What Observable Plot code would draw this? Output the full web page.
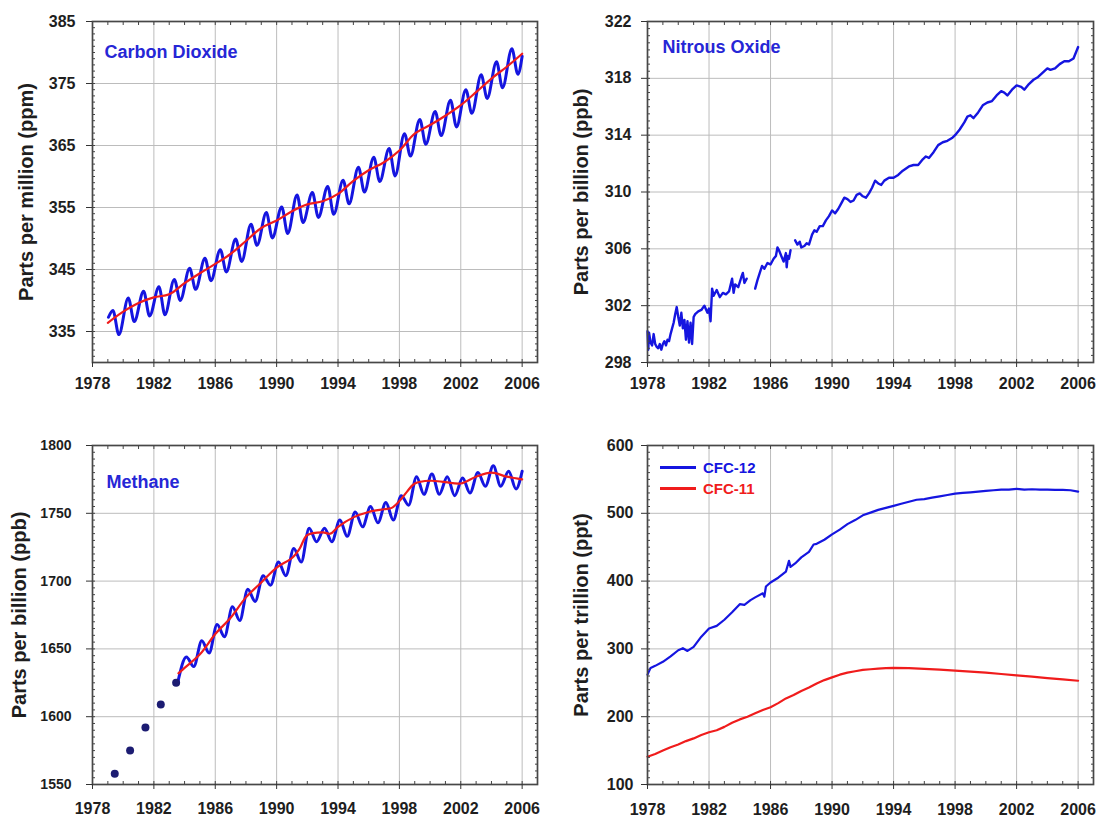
<!DOCTYPE html>
<html><head><meta charset="utf-8">
<script src="https://cdn.jsdelivr.net/npm/d3@7"></script>
<script src="https://cdn.jsdelivr.net/npm/@observablehq/plot@0.6"></script>
<style>
html,body{margin:0;padding:0;background:#fff}
body{width:1099px;height:818px;position:relative;overflow:hidden;font-family:"Liberation Sans",Arial,sans-serif}
.panel{position:absolute}
#legend{position:absolute;left:660px;top:457px;font:bold 15px "Liberation Sans",Arial,sans-serif;line-height:21px}
#legend .row{display:flex;align-items:center;height:21px}
#legend .sw{display:inline-block;width:36px;height:2.5px;margin-right:7px}
</style></head><body>
<div id="p1" class="panel" style="left:0;top:0"></div>
<div id="p2" class="panel" style="left:549px;top:0"></div>
<div id="p3" class="panel" style="left:0;top:400px"></div>
<div id="p4" class="panel" style="left:549px;top:400px"></div>
<div id="legend"></div>
<script>
// ---------- tick labels ----------
const xTickYears = [1978, 1982, 1986, 1990, 1994, 1998, 2002, 2006];
const co2Ticks = [335, 345, 355, 365, 375, 385];
const n2oTicks = [298, 302, 306, 310, 314, 318, 322];
const ch4Ticks = [1550, 1600, 1650, 1700, 1750, 1800];
const cfcTicks = [100, 200, 300, 400, 500, 600];

// ---------- Carbon dioxide (ppm) ----------
const co2Years = [1979,1980,1981,1982,1983,1984,1985,1986,1987,1988,1989,1990,1991,1992,1993,1994,1995,1996,1997,1998,1999,2000,2001,2002,2003,2004,2005];
const co2Peak = [338.4,340.4,341.5,342.2,343.4,345.2,346.8,348.2,349.9,352.3,354.2,355.1,357.0,357.4,358.4,359.4,361.5,363.1,364.5,366.9,369.2,370.5,372.3,374.0,376.4,378.5,380.6];
const co2Trough = [334.5,336.6,337.5,337.7,340.0,341.8,343.2,344.6,346.3,348.9,350.1,350.8,352.6,353.4,353.9,355.6,357.5,359.2,360.1,363.3,365.2,366.6,368.0,370.2,372.6,374.3,376.5];
const co2Start = 337.3, co2End = 379.4;
const co2TrendYears = [1979,1980,1981,1982,1983,1984,1985,1986,1987,1988,1989,1990,1991,1992,1993,1994,1995,1996,1997,1998,1999,2000,2001,2002,2003,2004,2005,2006];
const co2Trend = [336.4,338.2,339.6,340.5,341.0,342.8,344.4,345.9,347.5,349.6,351.7,352.9,354.4,355.5,356.0,357.2,359.3,361.0,362.3,364.2,366.9,368.3,369.8,371.5,373.6,375.8,377.7,379.8];

// ---------- Nitrous oxide (ppb) ----------
const n2oYearsA = [1978.0,1978.05,1978.1,1978.2,1978.3,1978.4,1978.5,1978.6,1978.7,1978.8,1978.9,1979.0,1979.1,1979.2,1979.3,1979.4,1979.5,1979.6,1979.7,1979.8,1979.9,1980.0,1980.1,1980.2,1980.3,1980.4,1980.5,1980.6,1980.7,1980.8,1980.9,1981.0,1981.1,1981.3,1981.5,1981.7,1981.9,1982.0,1982.1,1982.2,1982.3,1982.5,1982.7,1982.9,1983.1,1983.3,1983.5,1983.6,1983.7,1983.9,1984.1,1984.2,1984.3,1984.45];
const n2oValuesA = [300.2,298.9,300.1,299.4,299.2,300.0,299.3,299.1,299.0,299.3,298.9,299.3,299.5,299.2,299.6,299.5,300.0,300.4,300.8,301.4,301.9,301.2,300.6,301.5,300.4,301.0,299.6,300.9,299.4,300.8,299.3,301.2,301.4,301.6,301.7,302.0,301.5,301.8,300.9,303.2,302.7,303.1,302.6,302.9,302.8,303.0,303.9,302.9,303.5,303.3,304.0,304.3,303.6,303.9];
const n2oYearsB = [1985.0,1985.15,1985.3,1985.45,1985.6,1985.8,1986.0,1986.2,1986.35,1986.45,1986.55,1986.7,1986.85,1987.0,1987.05,1987.12,1987.2,1987.3];
const n2oValuesB = [303.2,303.8,304.3,304.8,304.6,305.0,304.9,305.3,305.5,306.1,305.9,305.5,305.1,305.7,304.7,305.5,305.3,305.9];
const n2oYearsC = [1987.6,1987.75,1987.9,1988.0,1988.2,1988.35,1988.5,1988.7,1988.85,1989.0,1989.2,1989.4,1989.6,1989.8,1990.0,1990.2,1990.4,1990.6,1990.8,1991.0,1991.2,1991.4,1991.6,1991.8,1992.0,1992.2,1992.4,1992.6,1992.8,1993.0,1993.2,1993.4,1993.7,1994.0,1994.3,1994.6,1995.0,1995.3,1995.6,1995.9,1996.1,1996.3,1996.6,1996.9,1997.2,1997.5,1997.8,1998.0,1998.3,1998.6,1998.8,1999.0,1999.2,1999.5,1999.8,2000.1,2000.4,2000.7,2001.0,2001.2,2001.4,2001.7,2002.0,2002.3,2002.5,2002.8,2003.1,2003.4,2003.7,2004.0,2004.2,2004.5,2004.8,2005.1,2005.4,2005.7,2006.0];
const n2oValuesC = [306.6,306.3,306.5,306.1,306.2,306.4,306.3,307.0,307.3,307.2,307.6,307.6,308.0,308.3,308.7,308.5,308.8,309.2,309.6,309.5,309.3,309.4,309.8,309.9,309.7,309.6,309.9,310.3,310.8,310.6,310.5,310.8,311.0,311.0,311.2,311.5,311.8,311.9,311.9,312.3,312.5,312.4,312.8,313.3,313.5,313.6,313.8,314.0,314.4,314.9,315.3,315.4,315.2,315.6,316.1,316.3,316.4,316.8,317.1,317.0,316.8,317.2,317.5,317.4,317.2,317.6,317.9,318.1,318.4,318.7,318.6,318.7,319.0,319.2,319.2,319.4,320.2];

// ---------- Methane (ppb) ----------
const ch4FlaskYears = [1979.45,1980.45,1981.45,1982.45,1983.45];
const ch4FlaskValues = [1558,1575,1592,1609,1625];
const ch4Years = [1984,1985,1986,1987,1988,1989,1990,1991,1992,1993,1994,1995,1996,1997,1998,1999,2000,2001,2002,2003,2004,2005];
const ch4Peak = [1644,1656,1668,1681,1694,1704,1714,1724,1739,1739,1745,1751,1755,1758,1763,1777,1779,1777,1776,1780,1785,1781];
const ch4Trough = [1637,1647,1659,1671,1685,1697,1704,1714,1729,1729,1733,1740,1743,1745,1756,1764,1764,1763,1765,1770,1770,1768];
const ch4Start = 1625, ch4End = 1781;
const ch4TrendYears = [1983.6,1984,1985,1986,1987,1988,1989,1990,1991,1991.5,1992,1993,1993.5,1994,1995,1996,1997,1997.5,1998,1998.5,1999,2000,2001,2002,2003,2004,2005,2006];
const ch4Trend = [1632,1636,1646,1661,1673,1688,1699,1710,1717,1724,1734,1736,1735,1740,1747,1751,1753,1754,1759,1766,1772,1774,1773,1772,1777,1780,1777,1775];

// ---------- CFCs (ppt) ----------
const cfcNames = ["CFC-12", "CFC-11"];
const cfcColors = ["#1515e0", "#f01c1c"];
const cfc12Years = [1978.0,1978.2,1978.5,1979.0,1979.5,1980.0,1980.3,1980.6,1981.0,1981.5,1982.0,1982.5,1983.0,1983.5,1984.0,1984.3,1984.7,1985.0,1985.5,1985.6,1985.7,1986.0,1986.5,1987.0,1987.2,1987.3,1987.6,1988.0,1988.5,1988.8,1989.0,1989.5,1990.0,1990.5,1991.0,1991.5,1992.0,1992.5,1993.0,1993.5,1994.0,1994.5,1995.0,1995.5,1996.0,1996.5,1997.0,1997.5,1998.0,1998.5,1999.0,1999.5,2000.0,2000.5,2001.0,2001.5,2002.0,2002.5,2003.0,2003.5,2004.0,2004.5,2005.0,2005.5,2006.0];
const cfc12Values = [262,272,275,281,289,298,301,297,303,318,330,334,343,354,366,365,372,376,382,377,392,398,405,414,430,421,426,435,443,454,455,461,469,476,484,490,497,501,505,508,511,514,517,520,521,523,525,527,529,530,531,532,533,534,535,535,536,535,535.5,535,535,534.5,534.5,534,532];
const cfc11Years = [1978.0,1978.5,1979.0,1979.5,1980.0,1980.5,1981.0,1981.5,1982.0,1982.5,1983.0,1983.5,1984.0,1984.5,1985.0,1985.5,1986.0,1986.5,1987.0,1987.5,1988.0,1988.5,1989.0,1989.5,1990.0,1990.5,1991.0,1991.5,1992.0,1992.5,1993.0,1993.5,1994.0,1995.0,1996.0,1997.0,1998.0,1999.0,2000.0,2001.0,2002.0,2003.0,2004.0,2005.0,2006.0];
const cfc11Values = [141,145,150,155,159,164,168,173,177,180,185,191,196,200,205,210,214,220,227,232,238,243,249,254,258,262,265,267,269,270,271,271.5,272,271.5,270.5,269.5,268,266.5,265,263,261,259,257,255,253];

// ---------- colours ----------
const BLUE = "#1515e0", RED = "#f01c1c", LABEL_BLUE = "#2626d6", DOT = "#1c1c72";

// ---------- tables ----------
function seasonal(years, peak, trough, start, end, tStart, tEnd, peakOff, troughOff) {
  const rows = [{t: tStart, v: start}];
  years.forEach((y, i) => {
    rows.push({t: y + peakOff, v: peak[i]});
    rows.push({t: y + troughOff, v: trough[i]});
  });
  rows.push({t: tEnd, v: end});
  return rows.sort((a, b) => a.t - b.t);
}
const zip = (ts, vs, extra = {}) => ts.map((t, i) => ({t, v: vs[i], ...extra}));

const co2Blue = seasonal(co2Years, co2Peak, co2Trough, co2Start, co2End, 1979.04, 2006.0, 0.33, 0.72);
const co2Red = zip(co2TrendYears, co2Trend);
const n2o = [...zip(n2oYearsA, n2oValuesA, {s: "a"}), ...zip(n2oYearsB, n2oValuesB, {s: "b"}), ...zip(n2oYearsC, n2oValuesC, {s: "c"})];
const ch4Blue = seasonal(ch4Years, ch4Peak, ch4Trough, ch4Start, ch4End, 1983.55, 2006.0, 0.12, 0.6);
const ch4Red = zip(ch4TrendYears, ch4Trend);
const ch4Dots = zip(ch4FlaskYears, ch4FlaskValues);
const cfc12 = zip(cfc12Years, cfc12Values);
const cfc11 = zip(cfc11Years, cfc11Values);

const xMinorYears = d3.range(1978, 2007);
const FONT = "'Liberation Sans', Arial, Helvetica, sans-serif";

function panel(o) {
  const yMinor = d3.range(o.yDomain[0], o.yDomain[1] + 1e-9, o.yMinorStep);
  const minorStyle = {tickFormat: () => "", stroke: "#444", strokeWidth: 1};
  const yGrid = o.yTicks.filter(d => d > o.yDomain[0] && d < o.yDomain[1]);
  return Plot.plot({
    width: o.width, height: o.height,
    marginLeft: o.ml, marginRight: o.mr, marginTop: o.mt, marginBottom: o.mb,
    x: {domain: [1978, 2007], label: null},
    y: {domain: o.yDomain, label: null},
    style: {fontFamily: FONT, fontSize: "16px", fontWeight: "bold", color: "#1e1e1e", background: "transparent", overflow: "visible"},
    marks: [
      Plot.gridX(xTickYears.slice(1), {stroke: "#bcbcbc", strokeOpacity: 1, strokeWidth: 1}),
      Plot.gridY(yGrid, {stroke: "#bcbcbc", strokeOpacity: 1, strokeWidth: 1}),
      ...o.marks,
      Plot.axisX(xMinorYears, {anchor: "bottom", tickSize: 3, dy: -3, ...minorStyle}),
      Plot.axisX(xMinorYears, {anchor: "top", tickSize: 3, dy: 3, ...minorStyle}),
      Plot.axisY(yMinor, {anchor: "left", tickSize: 3, dx: 3, ...minorStyle}),
      Plot.axisY(yMinor, {anchor: "right", tickSize: 3, dx: -3, ...minorStyle}),
      Plot.frame({stroke: "#474747", strokeWidth: 1.7}),
      Plot.axisX(xTickYears, {anchor: "bottom", tickSize: 5, tickPadding: o.xPad, tickFormat: d => String(d), stroke: "#333", fontSize: 16, fill: "#1e1e1e"}),
      Plot.axisY(o.yTicks, {anchor: "left", tickSize: 6, tickPadding: o.yPad, tickFormat: d => String(d), stroke: "#333", fontSize: o.yFont, fill: "#1e1e1e"}),
      Plot.text([o.yTitle], {frameAnchor: "left", textAnchor: "middle", lineAnchor: "middle", rotate: -90, dx: o.titleDx, fontSize: 20, fontWeight: "bold", fill: "#1e1e1e"}),
      o.name ? Plot.text([o.name], {frameAnchor: "top-left", dx: o.nameDx, dy: o.nameDy, textAnchor: "start", lineAnchor: "middle", fontSize: 18, fontWeight: "bold", fill: LABEL_BLUE}) : null
    ].filter(Boolean)
  });
}

document.getElementById("p1").append(panel({
  width: 549, height: 400, ml: 92, mr: 12, mt: 21, mb: 38,
  yDomain: [330, 385], yTicks: co2Ticks, yMinorStep: 1,
  xPad: 10, yPad: 11, yFont: 16, titleDx: -66,
  yTitle: "Parts per million (ppm)", name: "Carbon Dioxide", nameDx: 12, nameDy: 31,
  marks: [
    Plot.line(co2Blue, {x: "t", y: "v", stroke: BLUE, strokeWidth: 3, curve: "monotone-x"}),
    Plot.line(co2Red, {x: "t", y: "v", stroke: RED, strokeWidth: 2.2, curve: "catmull-rom"})
  ]
}));

document.getElementById("p2").append(panel({
  width: 550, height: 400, ml: 98, mr: 6, mt: 21, mb: 38,
  yDomain: [298, 322], yTicks: n2oTicks, yMinorStep: 0.5,
  xPad: 10, yPad: 10, yFont: 16, titleDx: -66,
  yTitle: "Parts per billion (ppb)", name: "Nitrous Oxide", nameDx: 15, nameDy: 26,
  marks: [
    Plot.line(n2o, {x: "t", y: "v", z: "s", stroke: BLUE, strokeWidth: 2.4})
  ]
}));

document.getElementById("p3").append(panel({
  width: 549, height: 418, ml: 92, mr: 12, mt: 45, mb: 34,
  yDomain: [1550, 1800], yTicks: ch4Ticks, yMinorStep: 5,
  xPad: 13, yPad: 15, yFont: 14, titleDx: -73,
  yTitle: "Parts per billion (ppb)", name: "Methane", nameDx: 14, nameDy: 37,
  marks: [
    Plot.line(ch4Blue, {x: "t", y: "v", stroke: BLUE, strokeWidth: 3, curve: "monotone-x"}),
    Plot.line(ch4Red, {x: "t", y: "v", stroke: RED, strokeWidth: 2.2, curve: "catmull-rom"}),
    Plot.dot(ch4Dots, {x: "t", y: "v", r: 4, fill: DOT, stroke: "none"})
  ]
}));

document.getElementById("p4").append(panel({
  width: 550, height: 418, ml: 98, mr: 6, mt: 45, mb: 34,
  yDomain: [100, 600], yTicks: cfcTicks, yMinorStep: 10,
  xPad: 14, yPad: 8, yFont: 16, titleDx: -66,
  yTitle: "Parts per trillion (ppt)", name: null,
  marks: [
    Plot.line(cfc12, {x: "t", y: "v", stroke: cfcColors[0], strokeWidth: 2.2}),
    Plot.line(cfc11, {x: "t", y: "v", stroke: cfcColors[1], strokeWidth: 2.2})
  ]
}));

// legend
const legend = document.getElementById("legend");
cfcNames.forEach((name, i) => {
  const row = document.createElement("div");
  row.className = "row";
  row.innerHTML = `<span class="sw" style="background:${cfcColors[i]}"></span><span style="color:${cfcColors[i]}">${name}</span>`;
  legend.append(row);
});
</script>
</body></html>
